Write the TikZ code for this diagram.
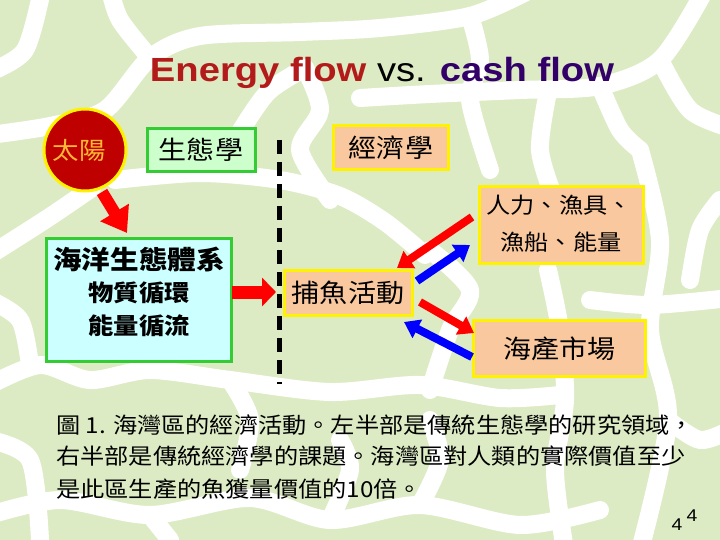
\documentclass[tikz,border=0pt]{standalone}
\usepackage{fontspec}
\setmainfont{Liberation Sans}[FakeStretch=1.14]
\newfontfamily\cjk{Noto Sans CJK TC}[FakeStretch=1.1]
\usetikzlibrary{arrows.meta}
\definecolor{bggreen}{HTML}{DCEBC4}
\definecolor{bordergreen}{HTML}{33CC33}
\definecolor{mint}{HTML}{CCFFCC}
\definecolor{paleblue}{HTML}{CCFFFF}
\definecolor{peach}{HTML}{FAC89E}
\definecolor{boxyellow}{HTML}{FFF200}
\definecolor{sunred}{HTML}{BE0000}
\definecolor{sungold}{HTML}{FFB935}
\definecolor{titlered}{HTML}{B31B1B}
\definecolor{titleblue}{HTML}{33006A}
\definecolor{arrred}{HTML}{FF0000}
\definecolor{arrblue}{HTML}{0000FF}
\tikzset{
  bgline/.style={white, line width=18pt, line cap=round, line join=round},
  greenbox/.style={draw=bordergreen, line width=3pt, inner sep=0pt},
  peachbox/.style={draw=boxyellow, line width=3pt, fill=peach, inner sep=0pt},
  boxtext/.style={font=\cjk\fontsize{25.5}{30}\selectfont, text=black},
  redarr/.style={draw=arrred, line width=8pt, -{Triangle[width=20pt,length=15pt]}},
  bluearr/.style={draw=arrblue, line width=8pt, -{Triangle[width=20pt,length=15pt]}},
  captext/.style={font=\cjk\fontsize{22}{26}\selectfont, anchor=west, inner sep=0pt},
}
\begin{document}
\begin{tikzpicture}[x=1pt,y=-1pt]
\useasboundingbox (0,0) rectangle (720,540);
\fill[bggreen] (0,0) rectangle (720,540);
% background giraffe-like network
\draw[bgline] plot[smooth] coordinates {(-10,135) (50,126) (105,110) (150,58) (200,36) (300,32) (380,28) (470,16) (530,-10)};
\draw[bgline] plot[smooth] coordinates {(-10,72) (25,50) (42,-10)};
\draw[bgline] plot[smooth] coordinates {(115,180) (200,173) (280,180) (340,196) (385,222) (425,255)};
\draw[bgline] plot[smooth] coordinates {(92,188) (48,218) (-10,255)};
\draw[bgline] plot[smooth] coordinates {(240,132) (268,92) (305,68)};
\draw[bgline] plot[smooth] coordinates {(360,98) (430,94) (520,90) (600,86) (660,60) (705,-10)};
\draw[bgline] plot[smooth] coordinates {(548,92) (540,150) (555,200)};
\draw[bgline] plot[smooth] coordinates {(660,60) (690,110) (730,128)};
\draw[bgline] plot[smooth] coordinates {(640,150) (660,240) (650,330) (668,420) (640,550)};
\draw[bgline] plot[smooth] coordinates {(590,300) (650,305) (730,298)};
\draw[bgline] plot[smooth] coordinates {(548,270) (560,330) (565,400) (555,470) (565,550)};
\draw[bgline] plot[smooth] coordinates {(-10,385) (40,365) (90,380) (150,370) (230,380) (330,392) (420,385) (500,398) (560,395)};
\draw[bgline] plot[smooth] coordinates {(-10,300) (20,320) (30,365)};
\draw[bgline] plot[smooth] coordinates {(-10,515) (60,500) (150,515) (250,498) (330,520) (420,505) (520,525) (600,510)};
\draw[bgline] plot[smooth] coordinates {(330,520) (350,470) (340,440)};
\draw[bgline] plot[smooth] coordinates {(230,380) (250,420) (240,470)};
\draw[bgline] plot[smooth] coordinates {(430,250) (470,290) (450,330) (430,390)};
\draw[bgline] plot[smooth] coordinates {(720,200) (700,230) (690,280)};
\draw[bgline] plot[smooth] coordinates {(150,58) (120,20) (110,-10)};
\draw[bgline] plot[smooth] coordinates {(305,68) (320,110) (300,150) (330,200)};
\draw[bgline] plot[smooth] coordinates {(470,16) (480,60) (470,100) (490,170)};
\draw[bgline] plot[smooth] coordinates {(600,86) (620,130) (640,150)};
\draw[bgline] plot[smooth] coordinates {(-10,440) (30,460) (40,540)};
\draw[bgline] plot[smooth] coordinates {(150,515) (170,540)};
\draw[bgline] plot[smooth] coordinates {(420,505) (440,460) (430,420)};
\draw[bgline] plot[smooth] coordinates {(668,420) (700,440) (730,430)};
% title
\node[anchor=base, inner sep=0pt, font=\fontsize{33.5}{40}\selectfont] (title) at (382,82)
  {{\bfseries\color{titlered}Energy flow} vs. {\bfseries\color{titleblue}cash flow}};
% sun
\node[circle, draw=boxyellow, line width=3pt, fill=sunred, minimum size=82pt, inner sep=0pt] (sun) at (85,150) {};
\node[font=\cjk\fontsize{24}{28}\selectfont, text=sungold, inner sep=0pt] (suntext) at (79,150) {太陽};
% boxes
\node[greenbox, fill=mint, minimum width=108pt, minimum height=43pt, boxtext] (eco) at (201,150) {生態學};
\node[peachbox, minimum width=115pt, minimum height=44pt, boxtext] (econ) at (391,148) {經濟學};
\node[greenbox, fill=paleblue, minimum width=185pt, minimum height=123pt] (sys) at (139,299.5) {};
\node[font=\cjk\bfseries\fontsize{26}{30}\selectfont, inner sep=0pt] (sys1) at (139,260) {海洋生態體系};
\node[font=\cjk\bfseries\fontsize{23}{28}\selectfont, inner sep=0pt] (sys2) at (139,293) {物質循環};
\node[font=\cjk\bfseries\fontsize{23}{28}\selectfont, inner sep=0pt] (sys3) at (139,326) {能量循流};
\node[peachbox, minimum width=128pt, minimum height=45pt, boxtext] (fish) at (348,293) {捕魚活動};
\node[peachbox, minimum width=164pt, minimum height=77pt] (input) at (561.5,225) {};
\node[font=\cjk\fontsize{22}{26}\selectfont, inner sep=0pt] (in1) at (559,205) {人力、漁具、};
\node[font=\cjk\fontsize{22}{26}\selectfont, inner sep=0pt] (in2) at (561,242) {漁船、能量};
\node[peachbox, minimum width=172pt, minimum height=56pt, boxtext] (market) at (559.5,348.5) {海產市場};
% dashed divider
\coordinate (dtop) at (279,140);
\coordinate (dbot) at (279,384);
\draw[line width=5pt, dash pattern=on 14pt off 8pt] (dtop) -- (dbot);
% arrows
\coordinate (s1) at (102,192);
\coordinate (s2) at (127,233);
\draw[draw=arrred, line width=12pt, -{Triangle[width=32pt,length=24pt]}] (s1) -- (s2);
\coordinate (e1) at (232,292);
\coordinate (e2) at (276,292);
\draw[draw=arrred, line width=13pt, -{Triangle[width=28pt,length=14pt]}] (e1) -- (e2);
\coordinate (a1) at (472,217);
\coordinate (a2) at (397,268);
\draw[redarr] (a1) -- (a2);
\coordinate (b1) at (417,281);
\coordinate (b2) at (470,245);
\draw[bluearr] (b1) -- (b2);
\coordinate (c1) at (420,302);
\coordinate (c2) at (474,333);
\draw[redarr] (c1) -- (c2);
\coordinate (d1) at (472,357);
\coordinate (d2) at (404,322);
\draw[bluearr] (d1) -- (d2);
% caption
\node[captext] (cap1) at (56,425) {圖 1. 海灣區的經濟活動。左半部是傳統生態學的研究領域，};
\node[captext] (cap2) at (56,456) {右半部是傳統經濟學的課題。海灣區對人類的實際價值至少};
\node[captext] (cap3) at (56,489) {是此區生產的魚獲量價值的10倍。};
% page numbers
\node[font=\fontsize{17}{20}\selectfont, inner sep=0pt] (pn1) at (677,525) {4};
\node[font=\fontsize{17}{20}\selectfont, inner sep=0pt] (pn2) at (692,516) {4};
\end{tikzpicture}
\end{document}
